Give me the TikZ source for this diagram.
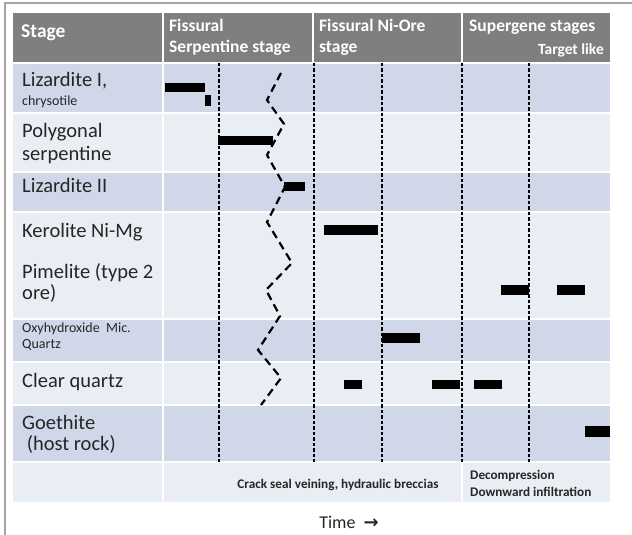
\documentclass[tikz,border=0pt]{standalone}
\usepackage{fontspec}
\setmainfont{Carlito}
\newfontfamily\arrowfont{DejaVu Sans}

\definecolor{headgray}{RGB}{127,127,127}
\definecolor{rowblue}{RGB}{208,215,233}
\definecolor{rowpale}{RGB}{233,237,244}
\definecolor{framegray}{RGB}{165,165,165}

\begin{document}
\begin{tikzpicture}[x=1pt, y=-1pt,
  rowlabel/.style={anchor=base west, inner sep=0pt, text=black!85, font=\fontsize{20.5}{23}\selectfont},
  sublabel/.style={anchor=base west, inner sep=0pt, text=black!85, font=\fontsize{14}{16}\selectfont},
  headlabel/.style={anchor=base west, inner sep=0pt, text=white, font=\bfseries\fontsize{17.5}{20}\selectfont},
  notelabel/.style={inner sep=0pt, text=black!85, font=\bfseries\fontsize{13.2}{15}\selectfont},
  stageline/.style={line width=2.4pt, dash pattern=on 3.5pt off 2pt},
  zigzag/.style={line width=2.2pt, dash pattern=on 8pt off 5pt},
  sepline/.style={white, line width=1.5pt}]
\useasboundingbox (0,0) rectangle (632,535);

% frame
\draw[framegray, line width=2pt] (5,535) -- (5,3) -- (632,3);

% table rows
\fill[headgray] (13,13) rectangle (610,62);
\foreach \ya/\yb/\col in {64/112/rowblue, 113.5/171/rowpale, 172.5/211/rowblue, 212.5/318/rowpale,
    319.5/361/rowblue, 362.5/404/rowpale, 405.5/461/rowblue, 463/502/rowpale}
  \fill[\col] (13,\ya) rectangle (610,\yb);
\draw[sepline] (163,13) -- (163,502);
\draw[sepline] (313,13) -- (313,62);
\draw[sepline] (462,13) -- (462,62);
\draw[sepline] (462,462) -- (462,502);

% header
\node[headlabel, font=\bfseries\fontsize{19.5}{22}\selectfont] (stage) at (21,38) {Stage};
\node[headlabel] (serp1) at (169,32) {Fissural};
\node[headlabel] (serp2) at (169,53) {Serpentine stage};
\node[headlabel] (ore1) at (319,32) {Fissural Ni-Ore};
\node[headlabel] (ore2) at (319,53) {stage};
\node[headlabel] (super) at (469,32) {Supergene stages};
\node[headlabel, anchor=base east, font=\bfseries\fontsize{15.5}{18}\selectfont] (target) at (604,55) {Target like};

% mineral names
\node[rowlabel] (liz1) at (22,87) {Lizardite I,};
\node[sublabel] (chry) at (22,106) {chrysotile};
\node[rowlabel] (poly1) at (22,137) {Polygonal};
\node[rowlabel] (poly2) at (22,160) {serpentine};
\node[rowlabel] (liz2) at (22,192) {Lizardite II};
\node[rowlabel] (kero) at (22,237) {Kerolite Ni-Mg};
\node[rowlabel] (pime1) at (22,278) {Pimelite (type 2};
\node[rowlabel] (pime2) at (22,299) {ore)};
\node[sublabel] (oxy1) at (22,332) {Oxyhydroxide\ \ Mic.};
\node[sublabel] (oxy2) at (22,348) {Quartz};
\node[rowlabel] (clear) at (22,387) {Clear quartz};
\node[rowlabel] (goet1) at (22,429) {Goethite};
\node[rowlabel] (goet2) at (22,450) {\ (host rock)};

% stage limits
\foreach \x in {219,314,382,462,529}
  \draw[stageline] (\x,63) -- (\x,462);

% zigzag
\draw[zigzag] (281,73) -- (267,100) -- (284,124) -- (267,155) -- (285,187) -- (267,222)
  -- (292,263) -- (266,290) -- (280,316) -- (258,350) -- (281,378) -- (261,405);

% bars
\foreach \xa/\xb/\ya/\yb in {165/205/83/92, 205/211/95/106, 218/273/136/145, 284/305/182/191,
    324/378/225/235, 501/529/285/295, 557/585/285/295, 382/420/333/343,
    344/362/380/389, 432/460/380/389, 474/502/380/389, 585/610/426/437}
  \fill (\xa,\ya) rectangle (\xb,\yb);

% bottom notes
\node[notelabel, anchor=base] (crack) at (338,488) {Crack seal veining, hydraulic breccias};
\node[notelabel, anchor=base west] (decomp) at (470,479) {Decompression};
\node[notelabel, anchor=base west] (infil) at (470,496) {Downward infiltration};
\node[anchor=base, inner sep=0pt, text=black!85, font=\fontsize{18}{20}\selectfont] (time) at (349,528) {Time\ \ {\arrowfont\bfseries\fontsize{18}{20}\selectfont →}};
\end{tikzpicture}
\end{document}
